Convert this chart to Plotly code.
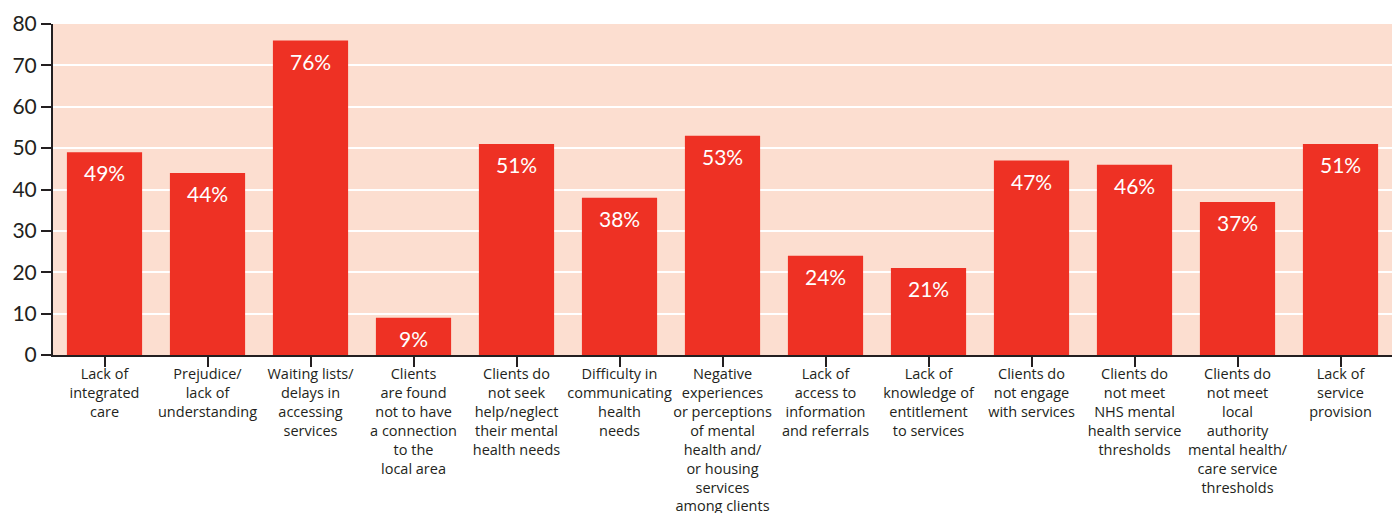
import plotly.graph_objects as go

categories = [
    "Lack of<br>integrated<br>care",
    "Prejudice/<br>lack of<br>understanding",
    "Waiting lists/<br>delays in<br>accessing<br>services",
    "Clients<br>are found<br>not to have<br>a connection<br>to the<br>local area",
    "Clients do<br>not seek<br>help/neglect<br>their mental<br>health needs",
    "Difficulty in<br>communicating<br>health<br>needs",
    "Negative<br>experiences<br>or perceptions<br>of mental<br>health and/<br>or housing<br>services<br>among clients",
    "Lack of<br>access to<br>information<br>and referrals",
    "Lack of<br>knowledge of<br>entitlement<br>to services",
    "Clients do<br>not engage<br>with services",
    "Clients do<br>not meet<br>NHS mental<br>health service<br>thresholds",
    "Clients do<br>not meet<br>local<br>authority<br>mental health/<br>care service<br>thresholds",
    "Lack of<br>service<br>provision",
]
values = [49, 44, 76, 9, 51, 38, 53, 24, 21, 47, 46, 37, 51]
y_ticks = [0, 10, 20, 30, 40, 50, 60, 70, 80]

RED = "#EE3124"
BG = "#FCDED0"
INK = "#231F20"
FONT = "Lato, 'Open Sans', sans-serif"
LABEL_FONT = "'Open Sans', Lato, sans-serif"

ids = list(range(len(categories)))

fig = go.Figure(
    go.Bar(
        x=ids,
        y=values,
        marker=dict(color=RED, line=dict(width=0)),
        hoverinfo="skip",
    )
)

# Percentage labels sit just inside the top of each bar
for i, v in zip(ids, values):
    fig.add_annotation(
        x=i, y=v, text=f"{v}%", showarrow=False,
        yanchor="top", yshift=-6,
        font=dict(family=FONT, size=21, color="white"),
    )

fig.update_layout(
    width=1392, height=513,
    margin=dict(l=53, r=0, t=24, b=158),
    paper_bgcolor="white",
    plot_bgcolor=BG,
    bargap=0.27,
    showlegend=False,
    font=dict(family=FONT, color=INK),
)
fig.update_xaxes(
    tickmode="array", tickvals=ids, ticktext=categories,
    range=[-0.5, len(categories) - 0.5],
    tickangle=0, automargin=False,
    ticks="outside", tickson="boundaries", ticklen=10, tickwidth=2, tickcolor=INK,
    ticklabelstandoff=-5,
    showline=True, linecolor=INK, linewidth=2,
    showgrid=False,
    tickfont=dict(family=LABEL_FONT, size=14.5, color=INK),
)
fig.update_yaxes(
    range=[0, 80], tickvals=y_ticks, automargin=False,
    ticks="outside", ticklen=10, tickwidth=2, tickcolor=INK,
    showline=True, linecolor=INK, linewidth=2,
    showgrid=True, gridcolor="white", gridwidth=2,
    zeroline=False,
    tickfont=dict(family=FONT, size=21, color=INK),
)

fig.write_html("out.html")
